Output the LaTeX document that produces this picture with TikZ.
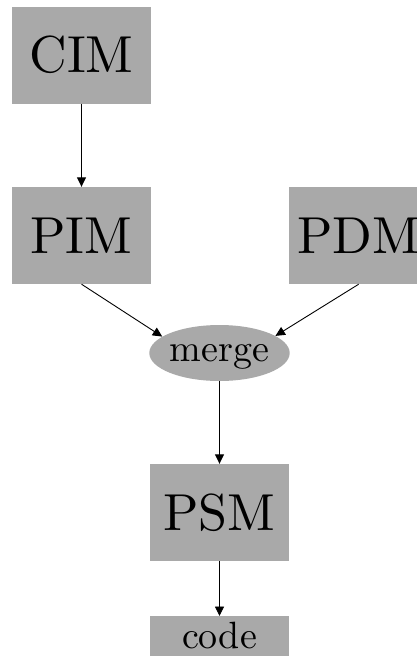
\documentclass[tikz,border=0pt]{standalone}
\usepackage{fontspec}
\setmainfont{lmroman10-regular.otf}
\usetikzlibrary{arrows.meta,shapes.geometric}
\definecolor{boxgray}{RGB}{169,169,169}
\begin{document}
\begin{tikzpicture}[x=1pt,y=-1pt,
  box/.style={rectangle, fill=boxgray, draw=none, minimum width=139pt, minimum height=97pt, inner sep=0pt, font=\fontsize{52}{60}\selectfont},
  oval/.style={ellipse, fill=boxgray, draw=none, minimum width=139pt, minimum height=56pt, inner sep=0pt, font=\fontsize{38}{44}\selectfont, text height=17.4pt, text depth=0pt},
  arr/.style={-{Triangle[length=9.5pt,width=9pt]}, line width=0.9pt}]
\useasboundingbox (0,0) rectangle (417,656);
\clip (0,0) rectangle (417,656);
\node[box] (cim) at (81.5,55) {CIM};
\node[box] (pim) at (81.5,235.5) {PIM};
\node[box, minimum width=140pt] (pdm) at (358.7,235.5) {PDM};
\node[oval] (merge) at (219.5,353) {merge};
\node[box] (psm) at (219.5,512.5) {PSM};
\node[box, minimum height=56pt, font=\fontsize{38}{44}\selectfont, text height=8pt, text depth=0pt, anchor=north] (code) at (219.5,616) {code};
\draw[arr] (cim) -- (pim);
\draw[arr] (pim.south) -- (merge.164);
\draw[arr] (pdm.south) -- (merge.17);
\draw[arr] (merge) -- (psm);
\draw[arr] (psm) -- (code);
\end{tikzpicture}
\end{document}
